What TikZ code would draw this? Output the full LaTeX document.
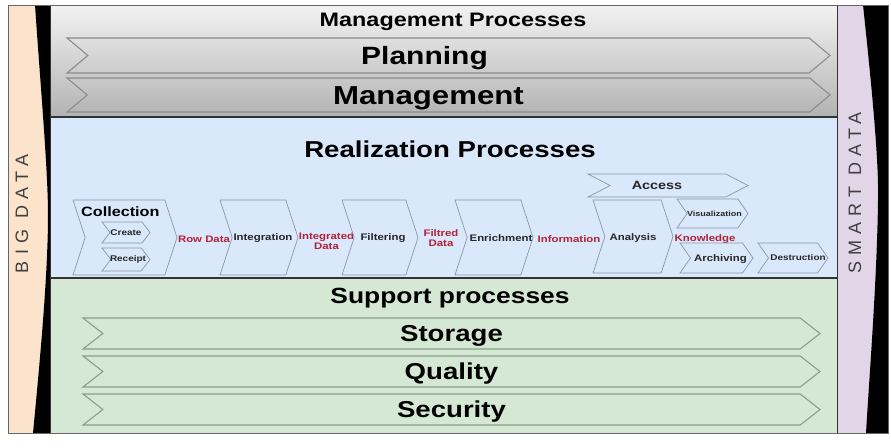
\documentclass[tikz,border=0pt]{standalone}
\usepackage{fontspec}
\setmainfont[FakeStretch=1.2]{Liberation Sans}
\newfontfamily\sidefont[LetterSpace=34]{Liberation Sans}
\usetikzlibrary{shapes.symbols}
\definecolor{peche}{RGB}{252,228,204}
\definecolor{lavande}{RGB}{226,213,232}
\definecolor{bleu}{RGB}{218,232,252}
\definecolor{vert}{RGB}{213,232,212}
\definecolor{rouge}{RGB}{178,34,52}
\definecolor{bordbleu}{RGB}{138,150,172}
\definecolor{bordvert}{RGB}{138,158,136}
\tikzset{
  fleche/.style={signal, signal from=west, signal to=east, inner sep=0pt, line width=1.1pt},
  chevron/.style={signal, signal from=west, signal to=east, inner sep=0pt, draw=bordbleu, fill=bleu, line width=0.7pt},
  titre/.style={font=\bfseries\fontsize{23}{24}\selectfont},
  gros/.style={font=\bfseries\fontsize{25}{26}\selectfont},
  etiq/.style={font=\bfseries\fontsize{9.5}{10.5}\selectfont, text=black!85, align=center, inner sep=1pt},
  mini/.style={font=\bfseries\fontsize{8.3}{9}\selectfont, text=black!85, inner sep=1pt},
  donnee/.style={etiq, text=rouge},
  cote/.style={rotate=90, font=\sidefont\fontsize{18}{18}\selectfont, text=black!75},
}
\begin{document}
\begin{tikzpicture}[x=1pt,y=-1pt] % un point = un pixel, y vers le bas
\useasboundingbox (0,0) rectangle (891,447);
% bandes laterales
\fill[peche] (8,5) -- (35,5) .. controls (40,80) and (48,170) .. (48,215) .. controls (48,280) and (38,380) .. (33,433) -- (8,433) -- cycle;
\fill[black] (35,5) .. controls (40,80) and (48,170) .. (48,215) .. controls (48,280) and (38,380) .. (33,433) -- (50,433) -- (50,5) -- cycle;
\fill[lavande] (837,5) -- (863,5) .. controls (871,80) and (879,160) .. (878,200) .. controls (877,280) and (869,380) .. (866,433) -- (837,433) -- cycle;
\fill[black] (863,5) .. controls (871,80) and (879,160) .. (878,200) .. controls (877,280) and (869,380) .. (866,433) -- (888,433) -- (888,5) -- cycle;
% les trois zones
\shade[top color=black!5, bottom color=black!30] (50,5) rectangle (837,117);
\fill[bleu] (50,117) rectangle (837,278);
\fill[vert] (50,278) rectangle (837,433);
\draw[line width=1.5pt, black!80] (50,117) -- (837,117);
\draw[line width=1.5pt, black!80] (50,278) -- (837,278);
\draw[black!80, line width=0.8pt] (50,5) rectangle (837,433);
\draw[black!60, line width=0.8pt] (8,5) rectangle (888,433);
\node[cote] (big) at (22,214) {BIG DATA};
\node[cote] (smart) at (855,193) {SMART DATA};
% processus de management
\node[font=\bfseries\fontsize{19.5}{20}\selectfont] (tmanag) at (453,21.5) {Management Processes};
\node[fleche, draw=black!45, minimum width=763pt, minimum height=35pt, signal pointer angle=80,
  label={[gros, xshift=-24pt, yshift=-3pt]center:Planning}] (plan) at (448.5,55.5) {};
\node[fleche, draw=black!45, minimum width=763pt, minimum height=34pt, signal pointer angle=80,
  label={[gros, xshift=-20pt, yshift=-3pt, font=\bfseries\fontsize{26}{27}\selectfont]center:Management}] (manag) at (448.5,95) {};
% processus de realisation
\node[titre] (treal) at (450,149) {Realization Processes};
\node[chevron, minimum width=104pt, minimum height=75pt, signal pointer angle=144] (collect) at (125,237.5) {};
\node[font=\bfseries\fontsize{13.5}{14}\selectfont, anchor=west, inner sep=0pt] (tcollect) at (81,212) {Collection};
\node[chevron, minimum width=48pt, minimum height=21pt, signal pointer angle=105,
  label={[mini]center:Create}] (create) at (126,232.5) {};
\node[chevron, minimum width=48pt, minimum height=23pt, signal pointer angle=105,
  label={[mini, xshift=2pt]center:Receipt}] (receipt) at (126,259.5) {};
\node[donnee] (row) at (204,239) {Row Data};
\node[chevron, minimum width=78pt, minimum height=75pt, signal pointer angle=144,
  label={[etiq, xshift=4pt, yshift=-1pt, inner sep=0pt]center:Integration}] (integ) at (259,237.5) {};
\node[donnee, inner sep=0pt] (integd) at (326.5,241) {Integrated\\Data};
\node[chevron, minimum width=76pt, minimum height=75pt, signal pointer angle=144,
  label={[etiq, xshift=3pt, yshift=-1pt]center:Filtering}] (filtre) at (380,237.5) {};
\node[donnee] (filtd) at (441,238) {Filtred\\Data};
\node[chevron, minimum width=78pt, minimum height=75pt, signal pointer angle=144,
  label={[etiq, xshift=7pt, yshift=-1pt]center:Enrichment}] (enrich) at (494,237.5) {};
\node[donnee] (info) at (569,239) {Information};
\node[chevron, minimum width=80pt, minimum height=73pt, signal pointer angle=144,
  label={[etiq, yshift=-1.5pt]center:Analysis}] (analyse) at (633,236.5) {};
\node[donnee] (know) at (705,239) {Knowledge};
\node[chevron, minimum width=160pt, minimum height=23pt, signal pointer angle=55,
  label={[etiq, xshift=-11pt, font=\bfseries\fontsize{12}{13}\selectfont]center:Access}] (acces) at (668,185.5) {};
\node[chevron, minimum width=71pt, minimum height=29pt, signal pointer angle=110,
  label={[mini, xshift=2pt, font=\bfseries\fontsize{7.5}{8}\selectfont]center:Visualization}] (visu) at (712.5,213.5) {};
\node[chevron, minimum width=73pt, minimum height=30pt, signal pointer angle=110,
  label={[etiq, xshift=4pt, yshift=-1pt]center:Archiving}] (archiv) at (716.5,258) {};
\node[chevron, minimum width=70pt, minimum height=30pt, signal pointer angle=110,
  label={[mini, xshift=5pt]center:Destruction}] (destr) at (793,258) {};
% processus de support
\node[font=\bfseries\fontsize{22}{23}\selectfont] (tsupp) at (450,298.5) {Support processes};
\node[fleche, draw=bordvert, minimum width=737pt, minimum height=31pt, signal pointer angle=76,
  label={[titre, yshift=-2.5pt]center:Storage}] (stock) at (451.5,333.5) {};
\node[fleche, draw=bordvert, minimum width=737pt, minimum height=31pt, signal pointer angle=76,
  label={[titre, yshift=-2.5pt]center:Quality}] (qualite) at (451.5,371.5) {};
\node[fleche, draw=bordvert, minimum width=737pt, minimum height=31pt, signal pointer angle=76,
  label={[titre, yshift=-2.5pt]center:Security}] (secu) at (451.5,409.5) {};
\end{tikzpicture}
\end{document}
